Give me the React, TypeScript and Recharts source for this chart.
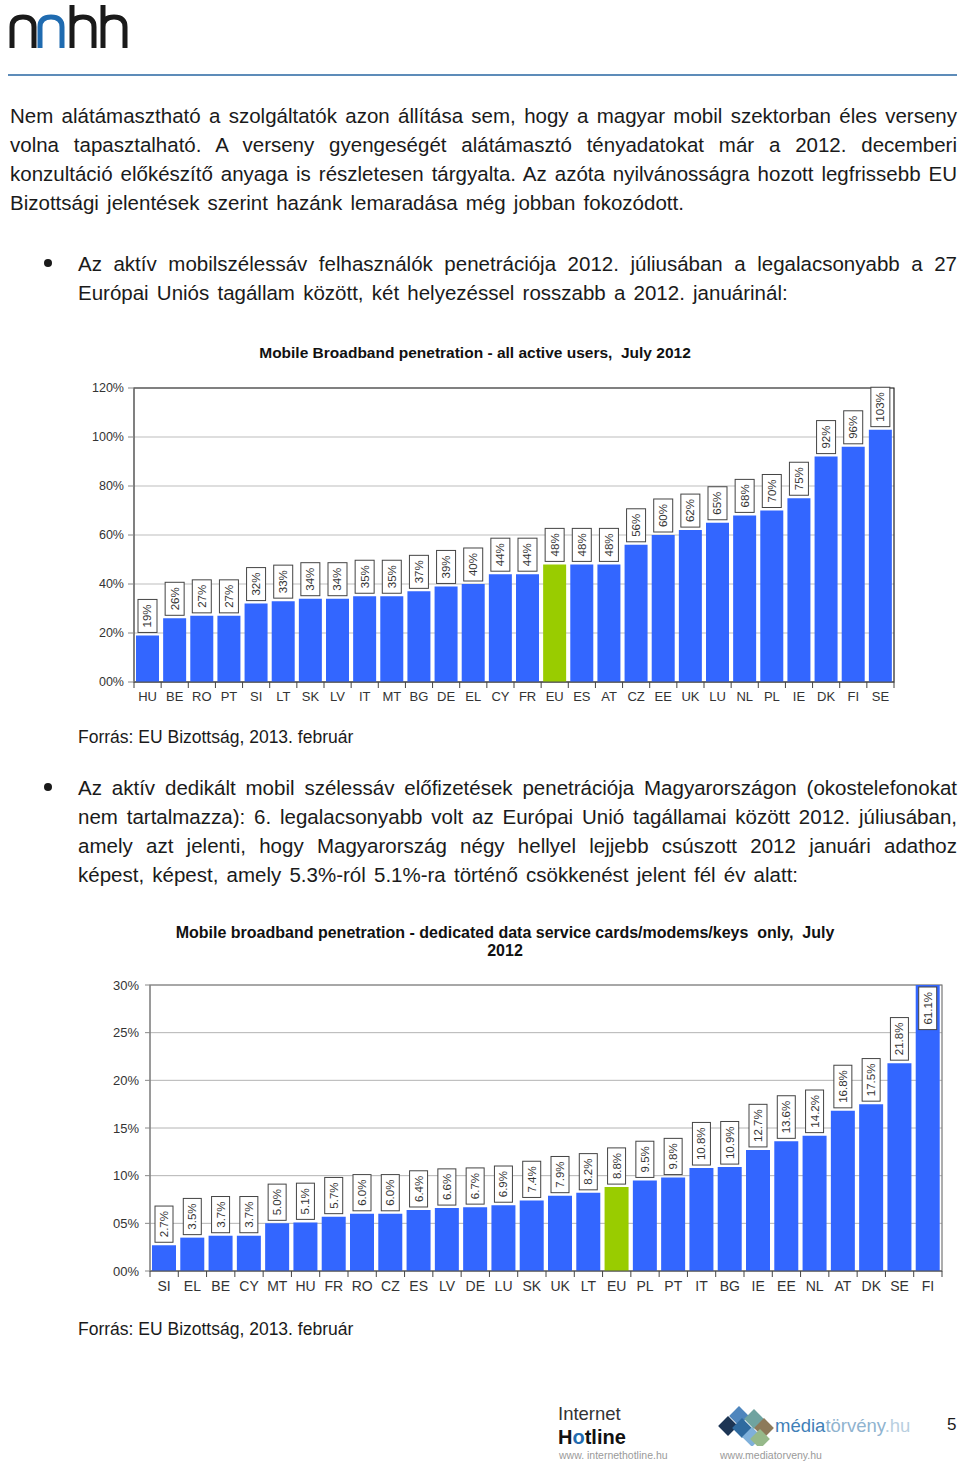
import React from 'react'
import {
  Bar,
  BarChart,
  CartesianGrid,
  Cell,
  LabelList,
  ReferenceArea,
  XAxis,
  YAxis,
} from 'recharts'

const FONT = '"Liberation Sans", Arial, sans-serif'
const BAR = '#3366ff'
const EU_GREEN = '#99cc00'
const INK = '#1a1a1a'

// ---------------------------------------------------------------------------
// Chart 1: all active users, July 2012
// ---------------------------------------------------------------------------
const activeCountries = [
  'HU', 'BE', 'RO', 'PT', 'SI', 'LT', 'SK', 'LV', 'IT', 'MT', 'BG', 'DE', 'EL', 'CY',
  'FR', 'EU', 'ES', 'AT', 'CZ', 'EE', 'UK', 'LU', 'NL', 'PL', 'IE', 'DK', 'FI', 'SE',
]
const activeValues = [
  19, 26, 27, 27, 32, 33, 34, 34, 35, 35, 37, 39, 40, 44,
  44, 48, 48, 48, 56, 60, 62, 65, 68, 70, 75, 92, 96, 103,
]
const activeTicks = [0, 20, 40, 60, 80, 100, 120]

// ---------------------------------------------------------------------------
// Chart 2: dedicated data cards / modems / keys, July 2012
// ---------------------------------------------------------------------------
const dedicatedCountries = [
  'SI', 'EL', 'BE', 'CY', 'MT', 'HU', 'FR', 'RO', 'CZ', 'ES', 'LV', 'DE', 'LU', 'SK',
  'UK', 'LT', 'EU', 'PL', 'PT', 'IT', 'BG', 'IE', 'EE', 'NL', 'AT', 'DK', 'SE', 'FI',
]
const dedicatedValues = [
  2.7, 3.5, 3.7, 3.7, 5.0, 5.1, 5.7, 6.0, 6.0, 6.4, 6.6, 6.7, 6.9, 7.4,
  7.9, 8.2, 8.8, 9.5, 9.8, 10.8, 10.9, 12.7, 13.6, 14.2, 16.8, 17.5, 21.8, 61.1,
]
const dedicatedTicks = [0, 5, 10, 15, 20, 25, 30]

const activeData = activeCountries.map((c, i) => ({ c, v: activeValues[i] }))
const dedicatedData = dedicatedCountries.map((c, i) => ({ c, v: dedicatedValues[i] }))

const pad2 = (v: number) => `${String(v).padStart(2, '0')}%`

// rough Arial advance widths, used to size the label boxes
function textWidth(s: string, size: number) {
  let w = 0
  for (const ch of s) {
    if (ch === '%') w += 0.889
    else if (ch === '.') w += 0.278
    else w += 0.556
  }
  return w * size
}

function makeBoxLabel(fmt: (v: number) => string, boxW: number, max: number, size: number) {
  return (props: any) => {
    const vb = props.viewBox ?? props
    const x = Number(vb.x ?? props.x)
    const y = Number(vb.y ?? props.y)
    const width = Number(vb.width ?? props.width)
    const height = Number(vb.height ?? props.height)
    const v = Number(props.value)
    const text = fmt(v)
    const boxH = textWidth(text, size) + 10
    const cx = x + width / 2
    let top = y - 3 - boxH
    if (v > max) {
      // bar runs off the top of the plot: put the box just inside it
      const base = y + height
      top = base - (max * height) / v + 2
    }
    const cy = top + boxH / 2
    return (
      <g>
        <rect x={cx - boxW / 2} y={top} width={boxW} height={boxH} fill="#fff" stroke="#444" strokeWidth={1} />
        <text
          x={cx}
          y={cy}
          transform={`rotate(-90 ${cx} ${cy})`}
          textAnchor="middle"
          dominantBaseline="central"
          fontSize={size}
          fontFamily={FONT}
          fill="#333"
        >
          {text}
        </text>
      </g>
    )
  }
}

function makeXTick(fontSize: number, fallbackHalf: number) {
  return (props: any) => {
    const { x, y, payload, index, visibleTicksCount } = props
    const half = payload?.offset > 0 ? payload.offset : fallbackHalf
    const axisY = y - 8
    return (
      <g>
        <line x1={x - half} x2={x - half} y1={axisY} y2={axisY + 6} stroke="#444" />
        {index === visibleTicksCount - 1 && (
          <line x1={x + half} x2={x + half} y1={axisY} y2={axisY + 6} stroke="#444" />
        )}
        <text x={x} y={y} dy={fontSize * 0.86} textAnchor="middle" fontSize={fontSize} fontFamily={FONT} fill="#333">
          {payload.value}
        </text>
      </g>
    )
  }
}

function ActiveChart() {
  return (
    <BarChart
      width={830}
      height={340}
      data={activeData}
      margin={{ top: 18, right: 16, left: 0, bottom: 4 }}
    >
      <CartesianGrid vertical={false} stroke="#bdbdbd" />
      <XAxis
        dataKey="c"
        interval={0}
        height={24}
        tickLine={false}
        tickSize={6}
        tickMargin={2}
        axisLine={{ stroke: '#555' }}
        tick={makeXTick(13, 760 / 28 / 2)}
      />
      <YAxis
        domain={[0, 120]}
        ticks={activeTicks}
        width={54}
        tickSize={6}
        tickMargin={4}
        tickFormatter={pad2}
        axisLine={{ stroke: '#888' }}
        tickLine={{ stroke: '#888' }}
        tick={{ fill: '#333', fontSize: 12.5, fontFamily: FONT }}
      />
      <ReferenceArea y1={0} y2={120} fill="none" stroke="#222" strokeWidth={1.2} />
      <Bar dataKey="v" barSize={23} isAnimationActive={false}>
        {activeData.map((d) => (
          <Cell key={d.c} fill={d.c === 'EU' ? EU_GREEN : BAR} />
        ))}
        <LabelList dataKey="v" content={makeBoxLabel((v) => `${v}%`, 19, 120, 11.5)} />
      </Bar>
    </BarChart>
  )
}

function DedicatedChart() {
  return (
    <BarChart
      width={870}
      height={332}
      data={dedicatedData}
      margin={{ top: 20, right: 18, left: 0, bottom: 0 }}
    >
      <CartesianGrid vertical={false} stroke="#b4b4b4" />
      <XAxis
        dataKey="c"
        interval={0}
        height={26}
        tickLine={false}
        tickSize={6}
        tickMargin={2}
        axisLine={{ stroke: '#555' }}
        tick={makeXTick(14, 792 / 28 / 2)}
      />
      <YAxis
        domain={[0, 30]}
        allowDataOverflow
        ticks={dedicatedTicks}
        width={60}
        tickSize={5}
        tickMargin={6}
        tickFormatter={pad2}
        axisLine={{ stroke: '#888' }}
        tickLine={{ stroke: '#888' }}
        tick={{ fill: '#333', fontSize: 13, fontFamily: FONT }}
      />
      <ReferenceArea y1={0} y2={30} fill="none" stroke="#777" strokeWidth={1.2} />
      <Bar dataKey="v" barSize={24} isAnimationActive={false}>
        {dedicatedData.map((d) => (
          <Cell key={d.c} fill={d.c === 'EU' ? EU_GREEN : BAR} />
        ))}
        <LabelList dataKey="v" content={makeBoxLabel((v) => `${v.toFixed(1)}%`, 18, 30, 11.5)} />
      </Bar>
    </BarChart>
  )
}

// ---------------------------------------------------------------------------
// page text
// ---------------------------------------------------------------------------
const introLines = [
  'Nem alátámasztható a szolgáltatók azon állítása sem, hogy a magyar mobil szektorban éles verseny',
  'volna tapasztalható. A verseny gyengeségét alátámasztó tényadatokat már a 2012. decemberi',
  'konzultáció előkészítő anyaga is részletesen tárgyalta. Az azóta nyilvánosságra hozott legfrissebb EU',
  'Bizottsági jelentések szerint hazánk lemaradása még jobban fokozódott.',
]
const bullet1Lines = [
  'Az aktív mobilszélessáv felhasználók penetrációja 2012. júliusában a legalacsonyabb a 27',
  'Európai Uniós tagállam között, két helyezéssel rosszabb a 2012. januárinál:',
]
const bullet2Lines = [
  'Az aktív dedikált mobil szélessáv előfizetések penetrációja Magyarországon (okostelefonokat',
  'nem tartalmazza): 6. legalacsonyabb volt az Európai Unió tagállamai között 2012. júliusában,',
  'amely azt jelenti, hogy Magyarország négy hellyel lejjebb csúszott 2012 januári adathoz',
  'képest, képest, amely 5.3%-ról 5.1%-ra történő csökkenést jelent fél év alatt:',
]
const SOURCE = 'Forrás: EU Bizottság, 2013. február'
const LH = 29.3

function Para({ lines, left, top, width }: { lines: string[]; left: number; top: number; width: number }) {
  return (
    <div style={{ position: 'absolute', left, top, width, fontSize: 20.5, color: INK }}>
      {lines.map((l, i) => {
        const last = i === lines.length - 1
        return (
          <div
            key={i}
            style={{
              height: LH,
              lineHeight: `${LH}px`,
              whiteSpace: 'nowrap',
              textAlign: last ? 'left' : 'justify',
              textAlignLast: last ? 'left' : 'justify',
              wordSpacing: last ? 2.5 : 0,
            }}
          >
            {l}
          </div>
        )
      })}
    </div>
  )
}

function Bullet({ top }: { top: number }) {
  return (
    <div
      style={{
        position: 'absolute',
        left: 44,
        top: top - 5,
        width: 8,
        height: 8,
        borderRadius: 4,
        background: INK,
      }}
    />
  )
}

function Logo() {
  return (
    <svg width={125} height={48} style={{ position: 'absolute', left: 6, top: 3 }}>
      <g fill="none" strokeWidth={5} strokeLinecap="butt">
        <path d="M6 45 V24 Q6 14 17 14 Q28 14 28 24 V45" stroke="#1a1a1a" />
        <path d="M34 45 V24 Q34 14 45 14 Q56 14 56 24 V45" stroke="#1f6bb0" />
        <path d="M66 2 V45 M66 24 Q66 14 77 14 Q88 14 88 24 V45" stroke="#1a1a1a" />
        <path d="M97 2 V45 M97 24 Q97 14 108 14 Q119 14 119 24 V45" stroke="#1a1a1a" />
      </g>
    </svg>
  )
}

function Diamonds() {
  const d = (cx: number, cy: number, c: string) => (
    <rect x={cx - 7} y={cy - 7} width={14} height={14} fill={c} transform={`rotate(45 ${cx} ${cy})`} />
  )
  return (
    <svg width={60} height={40} style={{ position: 'absolute', left: 716, top: 1406 }}>
      {d(12, 20, '#1d3554')}
      {d(23, 10, '#4f86bd')}
      {d(26, 22, '#2f6a9f')}
      {d(36, 31, '#7fb0da')}
      {d(38, 13, '#6fa3a0')}
      {d(48, 22, '#8d7a5a')}
      {d(44, 33, '#96b98a')}
    </svg>
  )
}

export default function App() {
  const abs = (left: number, top: number): React.CSSProperties => ({ position: 'absolute', left, top })
  return (
    <div
      style={{
        position: 'absolute',
        left: 0,
        top: 0,
        width: 960,
        height: 1464,
        background: '#fff',
        fontFamily: FONT,
        color: INK,
        overflow: 'hidden',
      }}
    >
      <Logo />
      <div style={{ ...abs(8, 74), width: 949, height: 2, background: '#5d8cb9' }} />

      <Para lines={introLines} left={10} top={100.5} width={947} />

      <Bullet top={264} />
      <Para lines={bullet1Lines} left={78} top={248.5} width={879} />

      <div style={{ ...abs(80, 344), width: 790, textAlign: 'center', fontSize: 15.5, fontWeight: 'bold', color: '#111', lineHeight: '18px' }}>
        Mobile Broadband penetration - all active users,&nbsp; July 2012
      </div>
      <div style={abs(80, 370)}>
        <ActiveChart />
      </div>
      <div style={{ ...abs(78, 727), fontSize: 17.5, color: INK }}>{SOURCE}</div>

      <Bullet top={788} />
      <Para lines={bullet2Lines} left={78} top={772.5} width={879} />

      <div style={{ ...abs(110, 924), width: 790, textAlign: 'center', fontSize: 16, fontWeight: 'bold', color: '#111', lineHeight: '18px' }}>
        <div>Mobile broadband penetration - dedicated data service cards/modems/keys&nbsp; only,&nbsp; July</div>
        <div>2012</div>
      </div>
      <div style={abs(90, 965)}>
        <DedicatedChart />
      </div>
      <div style={{ ...abs(78, 1319), fontSize: 17.5, color: INK }}>{SOURCE}</div>

      {/* footer */}
      <div style={{ ...abs(558, 1403), fontSize: 18.5, color: '#333', lineHeight: '21px' }}>Internet</div>
      <div style={{ ...abs(558, 1426), fontSize: 20, fontWeight: 'bold', color: '#111', lineHeight: '22px' }}>
        H<span style={{ color: '#1f6bb0' }}>o</span>tline
      </div>
      <div style={{ ...abs(559, 1449), fontSize: 10.5, color: '#9a9a9a', lineHeight: '12px' }}>www. internethotline.hu</div>

      <Diamonds />
      <div style={{ ...abs(775, 1414), fontSize: 18.5, lineHeight: '24px' }}>
        <span style={{ color: '#3f7fb8' }}>média</span>
        <span style={{ color: '#8fb3cf' }}>törvény</span>
        <span style={{ color: '#b9cfe0' }}>.hu</span>
      </div>
      <div style={{ ...abs(720, 1449), fontSize: 10.5, color: '#9a9a9a', lineHeight: '12px' }}>www.mediatorveny.hu</div>

      <div style={{ ...abs(947, 1415), fontSize: 17, color: INK }}>5</div>
    </div>
  )
}
